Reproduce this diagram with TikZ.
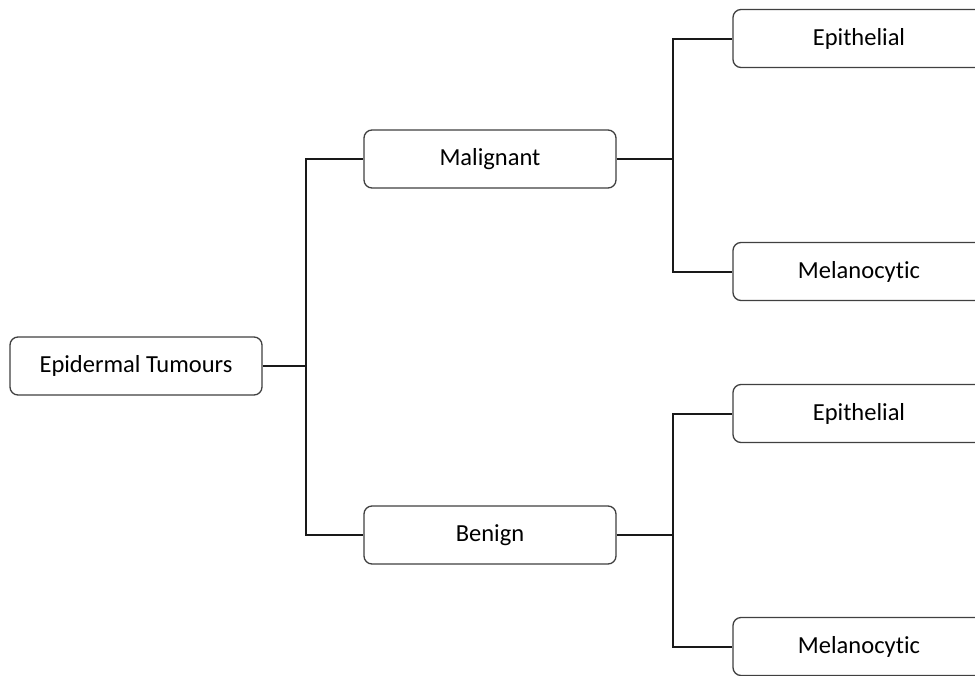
\documentclass[tikz,border=0pt]{standalone}
\usepackage{fontspec}
\setmainfont{Carlito}[RawFeature=-liga]
\begin{document}
\begin{tikzpicture}[x=1pt,y=-1pt,
  box/.style={draw=black!75, line width=1.3pt, rounded corners=8pt, fill=white,
    minimum width=252pt, minimum height=58pt, inner sep=0pt,
    font=\fontsize{24.5}{28}\selectfont, text=black},
  link/.style={line width=2pt, draw=black!90}]
\useasboundingbox (0,0) rectangle (975,675);
\clip (0,0) rectangle (975,675);

% nodes
\node[box] (root) at (136,366) {Epidermal Tumours};
\node[box] (mal)  at (490,159) {Malignant};
\node[box] (ben)  at (490,535) {Benign};
\node[box] (epiA) at (859,38.5) {Epithelial};
\node[box] (melA) at (859,271.5) {Melanocytic};
\node[box] (epiB) at (859,413.5) {Epithelial};
\node[box] (melB) at (859,646.5) {Melanocytic};

% branch points
\coordinate (busL) at (306,366);
\coordinate (busM) at (673,159);
\coordinate (busB) at (673,535);

% connectors
\draw[link] (root.east) -- (busL);
\draw[link] (busL) |- (mal.west);
\draw[link] (busL) |- (ben.west);
\draw[link] (mal.east) -- (busM);
\draw[link] (busM) |- (epiA.west);
\draw[link] (busM) |- (melA.west);
\draw[link] (ben.east) -- (busB);
\draw[link] (busB) |- (epiB.west);
\draw[link] (busB) |- (melB.west);
\end{tikzpicture}
\end{document}
